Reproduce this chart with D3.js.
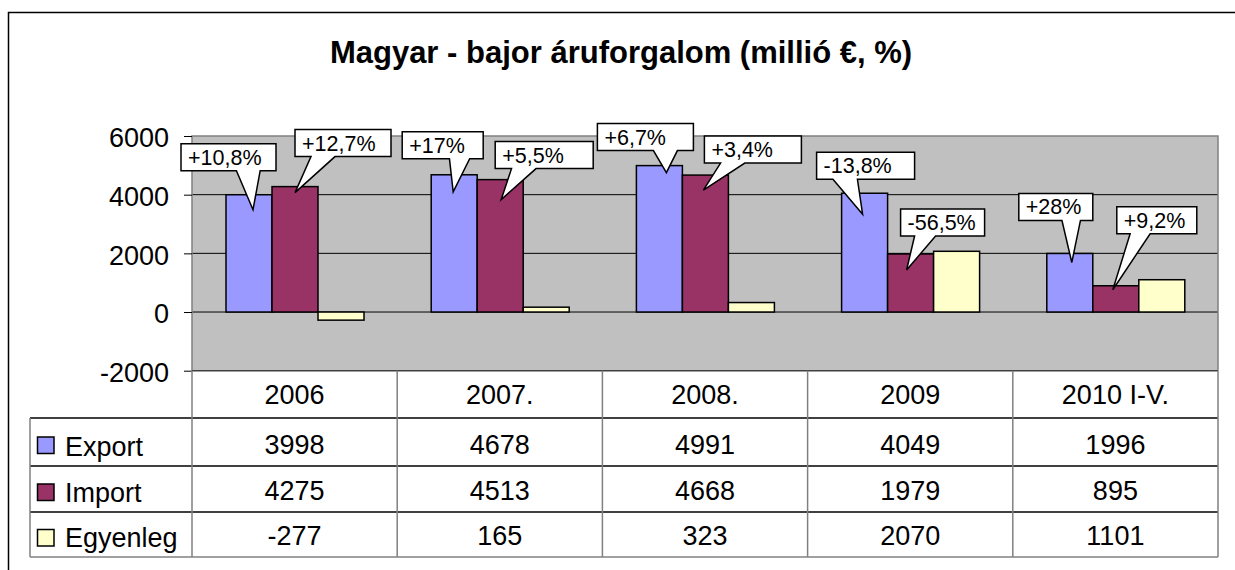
<!DOCTYPE html>
<html>
<head>
<meta charset="utf-8">
<script src="https://cdn.jsdelivr.net/npm/d3@7"></script>
<style>
  body { margin: 0; background: #fff; }
  text { font-family: "Liberation Sans", Arial, sans-serif; fill: #000; }
</style>
</head>
<body>
<div id="chart"></div>
<script>
// Data
var categories = ["2006", "2007.", "2008.", "2009", "2010 I-V."];
var seriesNames = ["Export", "Import", "Egyenleg"];
var exportValues = [3998, 4678, 4991, 4049, 1996];
var importValues = [4275, 4513, 4668, 1979, 895];
var balanceValues = [-277, 165, 323, 2070, 1101];
var exportChange = ["+10,8%", "+17%", "+6,7%", "-13,8%", "+28%"];
var importChange = ["+12,7%", "+5,5%", "+3,4%", "-56,5%", "+9,2%"];
var yTicks = [-2000, 0, 2000, 4000, 6000];
var colors = ["#9999FF", "#993366", "#FFFFCC"];

function init() {
    var w = 1235, h = 570;
    var plot = { left: 192, right: 1218, top: 136, bottom: 370.7 };
    var rowLines = [370.7, 418, 466, 512, 557];

    var svg = d3.select("#chart")
        .append("svg")
        .attr("width", w)
        .attr("height", h);

    // outer frame
    svg.append("rect")
        .attr("x", 8.5).attr("y", 12.5)
        .attr("width", 1240).attr("height", 600)
        .attr("fill", "#fff").attr("stroke", "#000").attr("stroke-width", 1.5);

    svg.append("text")
        .attr("x", 621).attr("y", 63)
        .attr("text-anchor", "middle")
        .style("font-size", "31px").style("font-weight", "bold")
        .text("Magyar - bajor áruforgalom (millió €, %)");

    // scales
    var xScale = d3.scaleBand().domain(categories).range([plot.left, plot.right]);
    var xInner = d3.scaleBand().domain(seriesNames).range([34, 172]);
    var yScale = d3.scaleLinear().domain([-2000, 6000]).range([plot.bottom, plot.top]);

    svg.append("rect")
        .attr("x", plot.left).attr("y", plot.top)
        .attr("width", plot.right - plot.left).attr("height", plot.bottom - plot.top)
        .attr("fill", "#C0C0C0");

    // gridlines
    svg.append("g").selectAll("line")
        .data(yTicks.filter(function (t) { return t > -2000 && t < 6000; }))
        .join("line")
        .attr("x1", plot.left).attr("x2", plot.right)
        .attr("y1", function (d) { return yScale(d); })
        .attr("y2", function (d) { return yScale(d); })
        .attr("stroke", "#000").attr("stroke-width", 1);

    // plot border
    svg.append("path")
        .attr("d", "M" + plot.left + "," + plot.bottom + "V" + plot.top + "H" + plot.right + "V" + plot.bottom)
        .attr("fill", "none").attr("stroke", "#808080").attr("stroke-width", 1.5);

    // y axis
    var yAxis = d3.axisLeft(yScale).tickValues(yTicks).tickSize(8).tickPadding(15)
        .tickFormat(function (d) { return String(d); });
    var gy = svg.append("g")
        .attr("transform", "translate(" + plot.left + ",0)")
        .call(yAxis);
    gy.select(".domain").remove();
    gy.selectAll("line").attr("stroke", "#000");
    gy.selectAll("text")
        .attr("dy", "0.4em")
        .style("font-size", "27px")
        .style("font-family", "'Liberation Sans', Arial, sans-serif");

    // bars
    var allSeries = [exportValues, importValues, balanceValues];
    allSeries.forEach(function (vals, s) {
        svg.append("g").selectAll("rect")
            .data(vals)
            .join("rect")
            .attr("x", function (d, i) { return xScale(categories[i]) + xInner(seriesNames[s]); })
            .attr("y", function (d) { return yScale(Math.max(d, 0)); })
            .attr("width", xInner.bandwidth())
            .attr("height", function (d) { return Math.abs(yScale(d) - yScale(0)); })
            .attr("fill", colors[s])
            .attr("stroke", "#000").attr("stroke-width", 1.5);
    });

    // callouts: offsets relative to top-centre of the bar
    var calloutLayout = [
        // export
        [{ tx: 4, ty: 15, bx: -68, by: -51, bw: 95 },
         { tx: -1, ty: 17, bx: -52, by: -43, bw: 81 },
         { tx: 7, ty: 7, bx: -62, by: -42, bw: 96 },
         { tx: -2, ty: 21, bx: -48, by: -41, bw: 98 },
         { tx: 2, ty: 9, bx: -51, by: -60, bw: 74 }],
        // import
        [{ tx: 0, ty: 6, bx: 0, by: -57, bw: 96 },
         { tx: 1, ty: 20, bx: -5, by: -38, bw: 98 },
         { tx: -2, ty: 15, bx: -1, by: -39, bw: 97 },
         { tx: -4, ty: 16, bx: -10, by: -45, bw: 84 },
         { tx: -3, ty: 4, bx: 1, by: -79, bw: 80 }]
    ];
    var changes = [exportChange, importChange];
    var bh = 27;

    function wedgePath(l, t, bw, tipX, tipY) {
        var r = l + bw, b = t + bh, hc = l + bw / 2;
        var x1 = l + bw * (tipX > hc ? 7 : 2) / 12;
        var x2 = l + bw * (tipX > hc ? 10 : 5) / 12;
        return "M" + l + "," + t + "H" + r + "V" + b + "H" + x2 +
            "L" + tipX + "," + tipY + "L" + x1 + "," + b + "H" + l + "Z";
    }

    changes.forEach(function (labels, s) {
        var vals = allSeries[s];
        labels.forEach(function (lab, i) {
            var cx = xScale(categories[i]) + xInner(seriesNames[s]) + xInner.bandwidth() / 2;
            var cy = yScale(vals[i]);
            var o = calloutLayout[s][i];
            var l = cx + o.bx, t = cy + o.by;
            var g = svg.append("g");
            g.append("path")
                .attr("d", wedgePath(l, t, o.bw, cx + o.tx, cy + o.ty))
                .attr("fill", "#fff").attr("stroke", "#000").attr("stroke-width", 1.5)
                .attr("stroke-linejoin", "miter");
            g.append("text")
                .attr("x", l + 7).attr("y", t + 21)
                .style("font-size", "21.5px")
                .text(lab);
        });
    });

    // data table
    var tbl = svg.append("g");
    // row lines
    [rowLines[1], rowLines[2], rowLines[3]].forEach(function (y) {
        tbl.append("line")
            .attr("x1", 30).attr("x2", plot.right)
            .attr("y1", y).attr("y2", y)
            .attr("stroke", "#000").attr("stroke-width", 1.5);
    });
    tbl.append("line")
        .attr("x1", 30).attr("x2", plot.right)
        .attr("y1", rowLines[4]).attr("y2", rowLines[4])
        .attr("stroke", "#808080").attr("stroke-width", 1.5);
    tbl.append("line")
        .attr("x1", plot.left).attr("x2", plot.right)
        .attr("y1", rowLines[0]).attr("y2", rowLines[0])
        .attr("stroke", "#404040").attr("stroke-width", 1.5);
    // column lines
    tbl.selectAll("line.col")
        .data(categories.concat(["end"]))
        .join("line")
        .attr("class", "col")
        .attr("x1", function (d, i) { return i < categories.length ? xScale(d) : plot.right; })
        .attr("x2", function (d, i) { return i < categories.length ? xScale(d) : plot.right; })
        .attr("y1", rowLines[0]).attr("y2", rowLines[4])
        .attr("stroke", "#808080").attr("stroke-width", 1.5);
    tbl.append("line")
        .attr("x1", 30).attr("x2", 30)
        .attr("y1", rowLines[1]).attr("y2", rowLines[4])
        .attr("stroke", "#808080").attr("stroke-width", 1.5);

    // header
    tbl.selectAll("text.hdr")
        .data(categories)
        .join("text")
        .attr("class", "hdr")
        .attr("x", function (d) { return xScale(d) + xScale.bandwidth() / 2; })
        .attr("y", rowLines[1] - 14)
        .attr("text-anchor", "middle")
        .style("font-size", "27px")
        .text(function (d) { return d; });

    allSeries.forEach(function (vals, s) {
        var yb = rowLines[s + 2] - 12;
        tbl.append("g").selectAll("text")
            .data(vals)
            .join("text")
            .attr("x", function (d, i) { return xScale(categories[i]) + xScale.bandwidth() / 2; })
            .attr("y", yb)
            .attr("text-anchor", "middle")
            .style("font-size", "27px")
            .text(function (d) { return d; });
        // legend key
        var mid = (rowLines[s + 1] + rowLines[s + 2]) / 2;
        tbl.append("rect")
            .attr("x", 37.5).attr("y", mid - 5)
            .attr("width", 16.5).attr("height", 16.5)
            .attr("fill", colors[s]).attr("stroke", "#000").attr("stroke-width", 1.5);
        tbl.append("text")
            .attr("x", 65).attr("y", yb + 2)
            .style("font-size", "27px")
            .text(seriesNames[s]);
    });
}

init();
</script>
</body>
</html>
